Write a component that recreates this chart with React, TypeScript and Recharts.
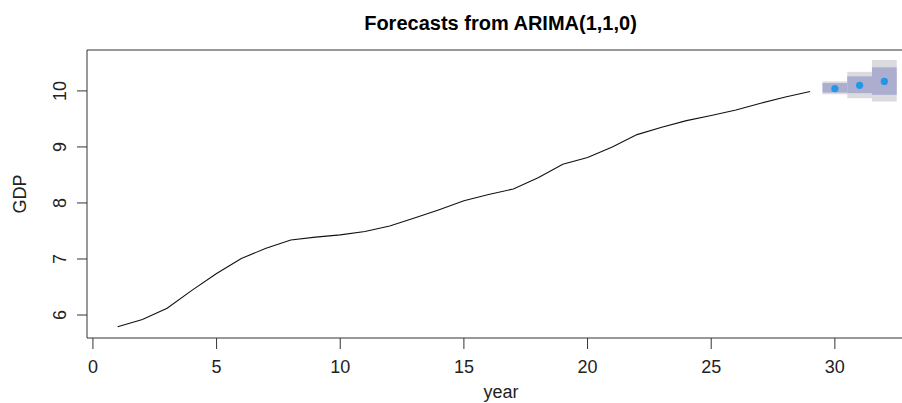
import React from 'react';
import { ComposedChart, Line, Scatter, XAxis, YAxis, ReferenceArea, Label } from 'recharts';

const years = [1, 2, 3, 4, 5, 6, 7, 8, 9, 10, 11, 12, 13, 14, 15, 16, 17, 18, 19, 20, 21, 22, 23, 24, 25, 26, 27, 28, 29];
const gdp = [5.79, 5.92, 6.12, 6.44, 6.74, 7.01, 7.19, 7.34, 7.39, 7.43, 7.49, 7.59, 7.73, 7.88, 8.04, 8.15, 8.25, 8.45, 8.69, 8.81, 9.0, 9.22, 9.35, 9.47, 9.56, 9.66, 9.78, 9.89, 9.99];

const fcYears = [30, 31, 32];
const fcMean = [10.04, 10.1, 10.17];
const lo80 = [9.97, 9.96, 9.93];
const hi80 = [10.14, 10.26, 10.42];
const lo95 = [9.94, 9.87, 9.81];
const hi95 = [10.17, 10.34, 10.55];

const xTicks = [0, 5, 10, 15, 20, 25, 30];
const yTicks = [6, 7, 8, 9, 10];
const xDomain = [-0.24, 33.24];
const yDomain = [5.59, 10.73];

const histData = years.map((y, i) => ({ year: y, gdp: gdp[i] }));
const fcData = fcYears.map((y, i) => ({ year: y, mean: fcMean[i] }));

const FONT = '"Liberation Sans", Arial, Helvetica, sans-serif';
const AXIS = '#333333';

const YTick = (props: any) => {
  const { y, payload } = props;
  const cx = 60;
  return (
    <text x={cx} y={y} transform={`rotate(-90 ${cx} ${y})`} textAnchor="middle" dy="0.35em"
      fontFamily={FONT} fontSize={18} fill="#222">
      {payload.value}
    </text>
  );
};

const XTick = (props: any) => {
  const { x, y, payload } = props;
  return (
    <text x={x} y={y} textAnchor="middle" dy="0.71em" fontFamily={FONT} fontSize={18} fill="#222">
      {payload.value}
    </text>
  );
};

const Dot = (props: any) => {
  const { cx, cy } = props;
  return <circle cx={cx} cy={cy} r={3.6} fill="#2297E6" />;
};

export default function App() {
  return (
    <div style={{ position: 'absolute', left: 0, top: 0, width: 902, height: 403, overflow: 'hidden', background: '#fff' }}>
      <ComposedChart width={916} height={403} margin={{ top: 50, right: 1, bottom: 0, left: 0 }}>
        <XAxis
          xAxisId="main"
          dataKey="year"
          type="number"
          domain={xDomain}
          ticks={xTicks}
          allowDataOverflow
          axisLine={false}
          tickLine={{ stroke: AXIS }}
          tickSize={11}
          tickMargin={11}
          height={65}
          tick={<XTick />}
        >
          <Label content={() => (
            <text x={501} y={397.5} textAnchor="middle" fontFamily={FONT} fontSize={18} fill="#222">year</text>
          )} />
        </XAxis>
        <YAxis
          yAxisId="main"
          type="number"
          domain={yDomain}
          ticks={yTicks}
          allowDataOverflow
          width={87}
          axisLine={false}
          tickLine={{ stroke: AXIS }}
          tickSize={10}
          tick={<YTick />}
        >
          <Label content={() => (
            <g>
              <text x={20} y={194} transform="rotate(-90 20 194)" textAnchor="middle" dy="0.35em"
                fontFamily={FONT} fontSize={18} fill="#222">GDP</text>
              <text x={500.5} y={29.5} textAnchor="middle" fontFamily={FONT} fontSize={20} fontWeight="bold" fill="#000">
                Forecasts from ARIMA(1,1,0)
              </text>
            </g>
          )} />
        </YAxis>

        {fcYears.map((t, i) => (
          <ReferenceArea key={'l95' + t} xAxisId="main" yAxisId="main" x1={t - 0.5} x2={t + 0.5} y1={lo95[i]} y2={hi95[i]}
            fill="#DADADF" fillOpacity={1} stroke="none" ifOverflow="visible" />
        ))}
        {fcYears.map((t, i) => (
          <ReferenceArea key={'l80' + t} xAxisId="main" yAxisId="main" x1={t - 0.5} x2={t + 0.5} y1={lo80[i]} y2={hi80[i]}
            fill="#ABAECF" fillOpacity={1} stroke="none" ifOverflow="visible" />
        ))}

        <Line
          xAxisId="main"
          yAxisId="main"
          data={histData}
          dataKey="gdp"
          type="linear"
          stroke="#111"
          strokeWidth={1.1}
          dot={false}
          activeDot={false}
          isAnimationActive={false}
        />
        <Scatter
          xAxisId="main"
          yAxisId="main"
          data={fcData}
          dataKey="mean"
          shape={<Dot />}
          isAnimationActive={false}
        />
        <ReferenceArea xAxisId="main" yAxisId="main" x1={xDomain[0]} x2={xDomain[1]} y1={yDomain[0]} y2={yDomain[1]}
          fill="none" stroke={AXIS} strokeWidth={1} ifOverflow="visible" />
      </ComposedChart>
    </div>
  );
}
